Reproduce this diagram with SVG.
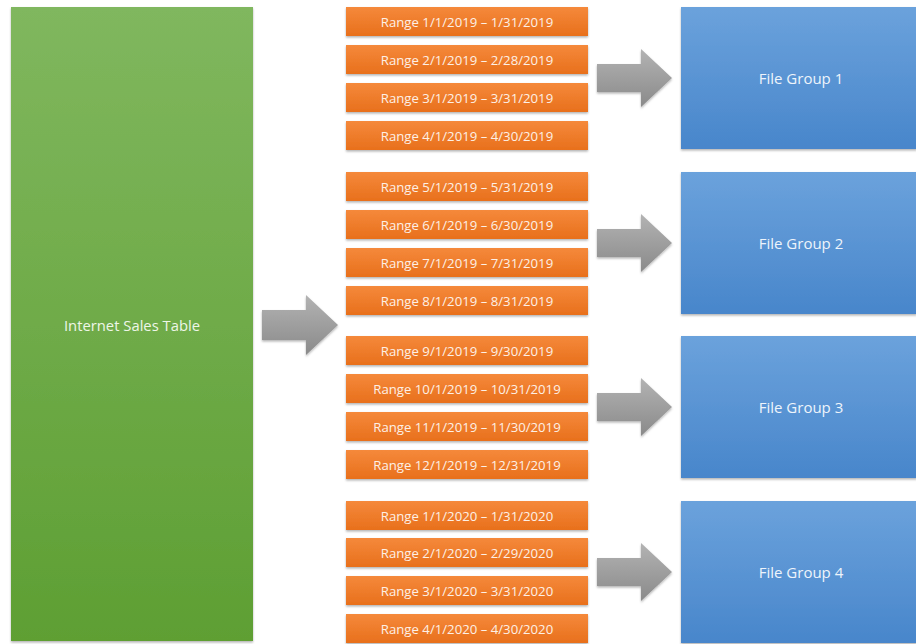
<svg xmlns="http://www.w3.org/2000/svg" width="916" height="644" viewBox="0 0 916 644">
  <defs>
    <linearGradient id="gGreen" x1="0" y1="0" x2="0" y2="1">
      <stop offset="0" stop-color="#80b75e"/>
      <stop offset="1" stop-color="#5e9f33"/>
    </linearGradient>
    <linearGradient id="gOrange" x1="0" y1="0" x2="0" y2="1">
      <stop offset="0" stop-color="#f5893b"/>
      <stop offset="1" stop-color="#e8701c"/>
    </linearGradient>
    <linearGradient id="gBlue" x1="0" y1="0" x2="0" y2="1">
      <stop offset="0" stop-color="#6ba2dc"/>
      <stop offset="1" stop-color="#4886cb"/>
    </linearGradient>
    <linearGradient id="gGray" x1="0" y1="0" x2="0" y2="1">
      <stop offset="0" stop-color="#b3b3b3"/>
      <stop offset="1" stop-color="#8a8a8a"/>
    </linearGradient>
    <filter id="shadow" x="-10%" y="-10%" width="120%" height="130%">
      <feDropShadow dx="0" dy="1.5" stdDeviation="1.2" flood-color="#000" flood-opacity="0.3"/>
    </filter>
    <path id="arrowSmall" d="M0,-14 H44 V-29 L75,0 L44,29 V14 H0 Z"/>
  </defs>
  <style>
    .table { fill: url(#gGreen); filter: url(#shadow); }
    .range { fill: url(#gOrange); filter: url(#shadow); }
    .fg { fill: url(#gBlue); filter: url(#shadow); }
    .arrow { fill: url(#gGray); filter: url(#shadow); }
    text { font-family: "Open Sans", "Liberation Sans", sans-serif; text-anchor: middle; dominant-baseline: central; }
    .rt { fill: #fdf0e6; font-size: 13.2px; }
    .ft { fill: #eef4fb; font-size: 15px; }
    .tt { fill: #eef6e8; font-size: 14.8px; }
  </style>

  <rect width="916" height="644" fill="#ffffff"/>

  <!-- source table -->
  <g id="internet-sales-table">
    <rect class="table" x="11" y="7" width="242" height="634"/>
    <text class="tt" x="132" y="325">Internet Sales Table</text>
  </g>

  <!-- partition ranges -->
  <g id="range-2019-01"><rect class="range" x="346" y="7" width="242" height="29"/><text class="rt" x="467" y="21.5">Range 1/1/2019 – 1/31/2019</text></g>
  <g id="range-2019-02"><rect class="range" x="346" y="45" width="242" height="29"/><text class="rt" x="467" y="59.5">Range 2/1/2019 – 2/28/2019</text></g>
  <g id="range-2019-03"><rect class="range" x="346" y="83" width="242" height="29"/><text class="rt" x="467" y="97.5">Range 3/1/2019 – 3/31/2019</text></g>
  <g id="range-2019-04"><rect class="range" x="346" y="121" width="242" height="29"/><text class="rt" x="467" y="135.5">Range 4/1/2019 – 4/30/2019</text></g>

  <g id="range-2019-05"><rect class="range" x="346" y="172" width="242" height="29"/><text class="rt" x="467" y="186.5">Range 5/1/2019 – 5/31/2019</text></g>
  <g id="range-2019-06"><rect class="range" x="346" y="210" width="242" height="29"/><text class="rt" x="467" y="224.5">Range 6/1/2019 – 6/30/2019</text></g>
  <g id="range-2019-07"><rect class="range" x="346" y="248" width="242" height="29"/><text class="rt" x="467" y="262.5">Range 7/1/2019 – 7/31/2019</text></g>
  <g id="range-2019-08"><rect class="range" x="346" y="286" width="242" height="29"/><text class="rt" x="467" y="300.5">Range 8/1/2019 – 8/31/2019</text></g>

  <g id="range-2019-09"><rect class="range" x="346" y="336" width="242" height="29"/><text class="rt" x="467" y="350.5">Range 9/1/2019 – 9/30/2019</text></g>
  <g id="range-2019-10"><rect class="range" x="346" y="374" width="242" height="29"/><text class="rt" x="467" y="388.5">Range 10/1/2019 – 10/31/2019</text></g>
  <g id="range-2019-11"><rect class="range" x="346" y="412" width="242" height="29"/><text class="rt" x="467" y="426.5">Range 11/1/2019 – 11/30/2019</text></g>
  <g id="range-2019-12"><rect class="range" x="346" y="450" width="242" height="29"/><text class="rt" x="467" y="464.5">Range 12/1/2019 – 12/31/2019</text></g>

  <g id="range-2020-01"><rect class="range" x="346" y="501" width="242" height="29"/><text class="rt" x="467" y="515.5">Range 1/1/2020 – 1/31/2020</text></g>
  <g id="range-2020-02"><rect class="range" x="346" y="538" width="242" height="29"/><text class="rt" x="467" y="552.5">Range 2/1/2020 – 2/29/2020</text></g>
  <g id="range-2020-03"><rect class="range" x="346" y="576" width="242" height="29"/><text class="rt" x="467" y="590.5">Range 3/1/2020 – 3/31/2020</text></g>
  <g id="range-2020-04"><rect class="range" x="346" y="614" width="242" height="29"/><text class="rt" x="467" y="628.5">Range 4/1/2020 – 4/30/2020</text></g>

  <!-- file groups -->
  <g id="file-group-1"><rect class="fg" x="681" y="7" width="236" height="142"/><text class="ft" x="801" y="78">File Group 1</text></g>
  <g id="file-group-2"><rect class="fg" x="681" y="172" width="236" height="142"/><text class="ft" x="801" y="243">File Group 2</text></g>
  <g id="file-group-3"><rect class="fg" x="681" y="336" width="236" height="142"/><text class="ft" x="801" y="407">File Group 3</text></g>
  <g id="file-group-4"><rect class="fg" x="681" y="501" width="236" height="142"/><text class="ft" x="801" y="572">File Group 4</text></g>

  <!-- connectors: block arrows -->
  <g id="connectors">
    <path class="arrow" d="M262,310 H306 V295 L338,325 L306,355 V340 H262 Z"/>
    <use class="arrow" href="#arrowSmall" x="597" y="78"/>
    <use class="arrow" href="#arrowSmall" x="597" y="243"/>
    <use class="arrow" href="#arrowSmall" x="597" y="407"/>
    <use class="arrow" href="#arrowSmall" x="597" y="572"/>
  </g>
</svg>
